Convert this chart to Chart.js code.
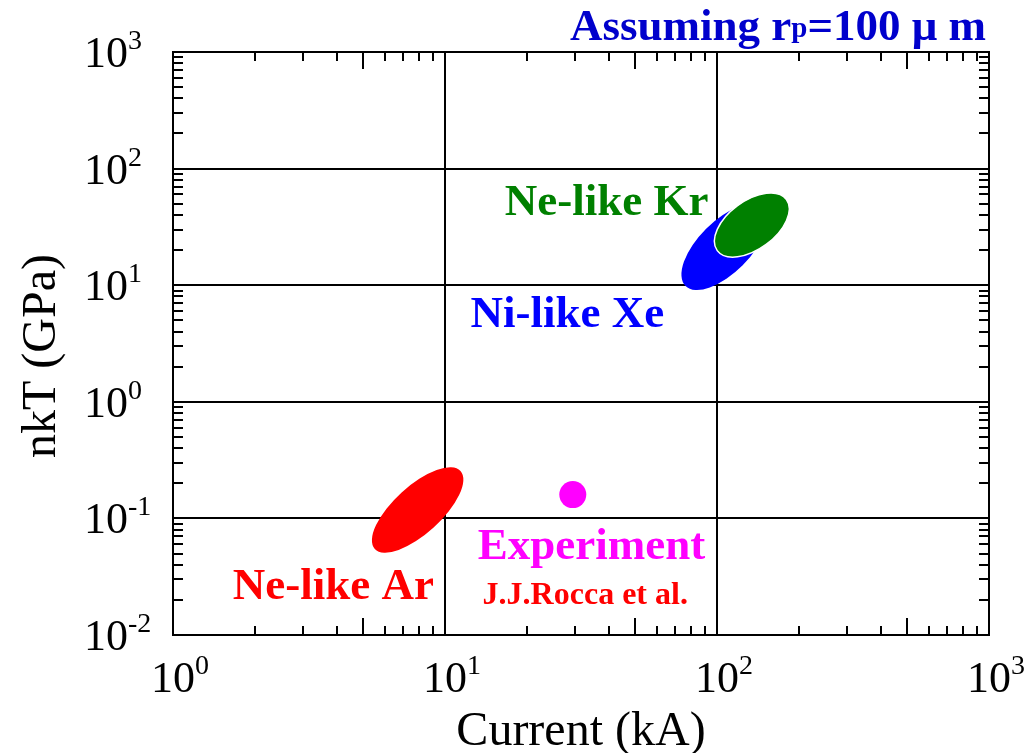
<!DOCTYPE html>
<html>
<head>
<meta charset="utf-8">
<script src="https://cdn.jsdelivr.net/npm/chart.js@4.4.1/dist/chart.umd.min.js"></script>
<style>
  html, body { margin: 0; padding: 0; background: #ffffff; }
  #wrap { width: 1031px; height: 753px; }
</style>
</head>
<body>
<div id="wrap"><canvas id="c" width="1031" height="753"></canvas></div>
<script>
// Decade ticks of both logarithmic axes and their exponent labels
const xDecades = [1, 10, 100, 1000];
const xExponents = ['0', '1', '2', '3'];
const yDecades = [0.01, 0.1, 1, 10, 100, 1000];
const yExponents = ['-2', '-1', '0', '1', '2', '3'];

// Operating regions: ends of the long axis (current kA, nkT GPa) and width / length ratio
const regionNames = ['Ne-like Ar', 'Ni-like Xe', 'Ne-like Kr'];
const regionStart = [[5.52, 0.0547], [76.6, 9.86], [100.2, 19.8]];
const regionEnd = [[11.4, 0.255], [148, 45.8], [180, 54.3]];
const regionRatio = [0.41, 0.47, 0.56];

// Measured point
const expCurrent = [29.5];
const expNkT = [0.16];

// Styling
const FONT = '"Liberation Serif", "Times New Roman", Times, serif';
const regionFill = ['#ff0000', '#0000ff', '#008000'];
const regionEdge = [null, null, '#ffffff'];

// Text labels placed in data coordinates (left edge, baseline)
const labels = [
  { text: 'Ne-like Kr', x: 16.6, y: 40.0, color: '#008000', size: 45 },
  { text: 'Ni-like Xe', x: 12.4, y: 4.38, color: '#0000ff', size: 45 },
  { text: 'Ne-like Ar', x: 1.66, y: 0.0204, color: '#ff0000', size: 45 },
  { text: 'Experiment', x: 13.2, y: 0.0449, color: '#ff00ff', size: 45 },
  { text: 'J.J.Rocca et al.', x: 13.75, y: 0.01845, color: '#ff0000', size: 32 }
];

const regionPlugin = {
  id: 'regions',
  beforeDatasetsDraw(chart) {
    const { ctx, scales: { x, y } } = chart;
    ctx.save();
    regionNames.forEach((name, i) => {
      const x1 = x.getPixelForValue(regionStart[i][0]);
      const y1 = y.getPixelForValue(regionStart[i][1]);
      const x2 = x.getPixelForValue(regionEnd[i][0]);
      const y2 = y.getPixelForValue(regionEnd[i][1]);
      const cx = (x1 + x2) / 2, cy = (y1 + y2) / 2;
      const a = Math.hypot(x2 - x1, y2 - y1) / 2;
      const ang = Math.atan2(y2 - y1, x2 - x1);
      ctx.beginPath();
      ctx.ellipse(cx, cy, a, a * regionRatio[i], ang, 0, Math.PI * 2);
      ctx.fillStyle = regionFill[i];
      ctx.fill();
      if (regionEdge[i]) {
        ctx.lineWidth = 1.5;
        ctx.strokeStyle = regionEdge[i];
        ctx.stroke();
      }
    });
    ctx.restore();
  }
};

const framePlugin = {
  id: 'frame',
  afterDraw(chart) {
    const { ctx, chartArea: ca, scales: { x, y } } = chart;
    ctx.save();
    ctx.strokeStyle = '#000';
    ctx.lineWidth = 2;
    ctx.lineCap = 'butt';

    // minor ticks on all four sides, pointing inward
    ctx.beginPath();
    for (let d = 0; d < xDecades.length - 1; d++) {
      for (let m = 2; m <= 9; m++) {
        const px = Math.round(x.getPixelForValue(xDecades[d] * m));
        const len = m === 5 ? 17 : 9;
        ctx.moveTo(px, ca.bottom); ctx.lineTo(px, ca.bottom - len);
        ctx.moveTo(px, ca.top); ctx.lineTo(px, ca.top + len);
      }
    }
    for (let d = 0; d < yDecades.length - 1; d++) {
      for (let m = 2; m <= 9; m++) {
        const py = Math.round(y.getPixelForValue(yDecades[d] * m));
        const len = 10;
        ctx.moveTo(ca.left, py); ctx.lineTo(ca.left + len, py);
        ctx.moveTo(ca.right, py); ctx.lineTo(ca.right - len, py);
      }
    }
    ctx.stroke();

    // frame
    ctx.strokeRect(ca.left, ca.top, ca.right - ca.left, ca.bottom - ca.top);

    // tick labels: 10 with superscript exponent
    ctx.fillStyle = '#000';
    ctx.textBaseline = 'alphabetic';
    xDecades.forEach((v, i) => {
      const px = x.getPixelForValue(v);
      ctx.font = '44px ' + FONT;
      ctx.textAlign = 'center';
      ctx.fillText('10', px, ca.bottom + 57);
      const w = ctx.measureText('10').width;
      ctx.font = '28px ' + FONT;
      ctx.textAlign = 'left';
      ctx.fillText(xExponents[i], px + w / 2, ca.bottom + 39);
    });
    yDecades.forEach((v, i) => {
      const py = y.getPixelForValue(v);
      ctx.font = '44px ' + FONT;
      ctx.textAlign = 'left';
      ctx.fillText('10', 84, py + 15);
      const w = ctx.measureText('10').width;
      ctx.font = '28px ' + FONT;
      ctx.fillText(yExponents[i], 84 + w, py - 3);
    });

    // axis titles
    ctx.font = '48px ' + FONT;
    ctx.textAlign = 'center';
    ctx.fillText('Current (kA)', (ca.left + ca.right) / 2, 745);
    ctx.save();
    ctx.translate(55, 356);
    ctx.rotate(-Math.PI / 2);
    ctx.fillText('nkT (GPa)', 0, 0);
    ctx.restore();

    // annotations
    ctx.textAlign = 'left';
    labels.forEach(l => {
      ctx.font = 'bold ' + l.size + 'px ' + FONT;
      ctx.fillStyle = l.color;
      ctx.fillText(l.text, x.getPixelForValue(l.x), y.getPixelForValue(l.y));
    });

    // heading with subscript
    ctx.fillStyle = '#0000cc';
    let tx = 570;
    const base = 40;
    ctx.font = 'bold 45px ' + FONT;
    ctx.fillText('Assuming r', tx, base);
    tx += ctx.measureText('Assuming r').width;
    ctx.font = 'bold 29px ' + FONT;
    ctx.fillText('p', tx, base - 3);
    tx += ctx.measureText('p').width;
    ctx.font = 'bold 45px ' + FONT;
    ctx.fillText('=100 \u03bc m', tx, base);

    ctx.restore();
  }
};

const decadeTicks = list => scale => { scale.ticks = list.map(v => ({ value: v })); };

new Chart(document.getElementById('c'), {
  type: 'scatter',
  data: {
    datasets: [{
      label: 'Experiment',
      data: expCurrent.map((v, i) => ({ x: v, y: expNkT[i] })),
      backgroundColor: '#ff00ff',
      borderWidth: 0,
      pointRadius: 13.5,
      pointHoverRadius: 13.5
    }]
  },
  options: {
    responsive: false,
    animation: false,
    events: [],
    layout: { padding: { left: 173, top: 52, right: 42, bottom: 118 } },
    plugins: { legend: { display: false }, tooltip: { enabled: false } },
    scales: {
      x: {
        type: 'logarithmic', min: 1, max: 1000,
        afterBuildTicks: decadeTicks(xDecades),
        ticks: { display: false },
        grid: { color: '#000', lineWidth: 2, drawTicks: false },
        border: { display: false }
      },
      y: {
        type: 'logarithmic', min: 0.01, max: 1000,
        afterBuildTicks: decadeTicks(yDecades),
        ticks: { display: false },
        grid: { color: '#000', lineWidth: 2, drawTicks: false },
        border: { display: false }
      }
    }
  },
  plugins: [regionPlugin, framePlugin]
});
</script>
</body>
</html>
